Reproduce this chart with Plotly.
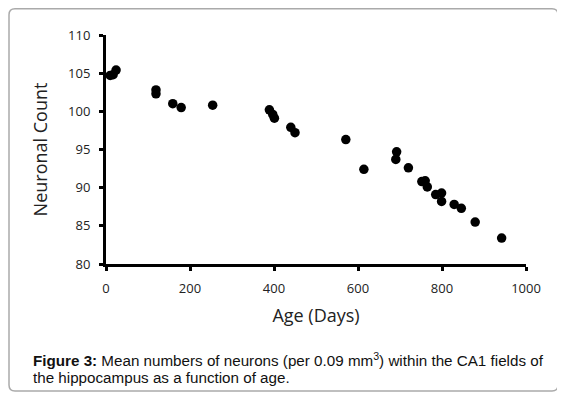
import plotly.graph_objects as go

age_days = [10, 17, 24, 119, 119, 159, 179, 254, 389, 397, 401, 440, 450, 571,
            614, 690, 692, 720, 752, 760, 765, 785, 799, 799, 829, 846, 879, 942]
neuron_count = [104.7, 104.8, 105.4, 102.3, 102.8, 101.0, 100.5, 100.8, 100.2, 99.6, 99.1, 97.9, 97.2, 96.3,
                92.4, 93.7, 94.7, 92.6, 90.8, 90.9, 90.1, 89.1, 89.3, 88.2, 87.8, 87.3, 85.5, 83.4]

x_ticks = [0, 200, 400, 600, 800, 1000]
y_ticks = [80, 85, 90, 95, 100, 105, 110]

# page has an 8px body margin; figure coordinates are page - 8
OFF = 8
W, H = 565 - OFF, 394 - OFF
L, T = 106 - OFF, 35 - OFF
pw, ph = 420, 229
R = W - L - pw
B = H - T - ph

def px(x):
    return (x - OFF - L) / pw

def py(y):
    return (T + ph - (y - OFF)) / ph

fig = go.Figure()
fig.add_trace(go.Scatter(
    x=age_days, y=neuron_count, mode="markers",
    marker=dict(color="black", size=9.5, line=dict(width=0)),
    cliponaxis=False, showlegend=False,
))

axis_font = dict(family="Open Sans, Liberation Sans, Arial", size=13, color="#222")
fig.update_xaxes(
    range=[0, 1000], tickvals=x_ticks, ticktext=[str(v) for v in x_ticks],
    showgrid=False, zeroline=False, showline=True, linecolor="black", linewidth=3,
    ticks="outside", ticklen=4, tickwidth=3, tickcolor="black",
    tickfont=axis_font, ticklabelstandoff=6,
    title=dict(text="Age (Days)", font=dict(family="Open Sans, Liberation Sans, Arial", size=18, color="#222"), standoff=14),
)
fig.update_yaxes(
    range=[80, 110], tickvals=y_ticks, ticktext=[str(v) for v in y_ticks],
    showgrid=False, zeroline=False, showline=True, linecolor="black", linewidth=3,
    ticks="outside", ticklen=4, tickwidth=3, tickcolor="black",
    tickfont=axis_font, ticklabelstandoff=6,
    title=dict(text="Neuronal Count", font=dict(family="Open Sans, Liberation Sans, Arial", size=18, color="#222"), standoff=16),
)

# rounded border around the whole figure
x0, x1 = px(9), px(558)
y0, y1 = py(391), py(8.8)
rx, ry = 6 / pw, 6 / ph
path = (f"M {x0+rx},{y1} L {x1-rx},{y1} Q {x1},{y1} {x1},{y1-ry} "
        f"L {x1},{y0+ry} Q {x1},{y0} {x1-rx},{y0} "
        f"L {x0+rx},{y0} Q {x0},{y0} {x0},{y0+ry} "
        f"L {x0},{y1-ry} Q {x0},{y1} {x0+rx},{y1} Z")
fig.add_shape(type="path", path=path, xref="paper", yref="paper",
              line=dict(color="#aaaaaa", width=1.5), layer="below")

cap_font = dict(family="Liberation Sans, Arial", size=15.2, color="#111")
fig.add_annotation(
    text="<b>Figure 3:</b> Mean numbers of neurons (per 0.09 mm<sup>3</sup>) within the CA1 fields of",
    x=px(31), y=py(359), xref="paper", yref="paper", xanchor="left", yanchor="middle",
    showarrow=False, font=cap_font,
)
fig.add_annotation(
    text="the hippocampus as a function of age.",
    x=px(31), y=py(377.5), xref="paper", yref="paper", xanchor="left", yanchor="middle",
    showarrow=False, font=cap_font,
)

fig.update_layout(
    width=W, height=H,
    margin=dict(l=L, r=R, t=T, b=B),
    paper_bgcolor="white", plot_bgcolor="white",
)
fig.write_html("out.html")
